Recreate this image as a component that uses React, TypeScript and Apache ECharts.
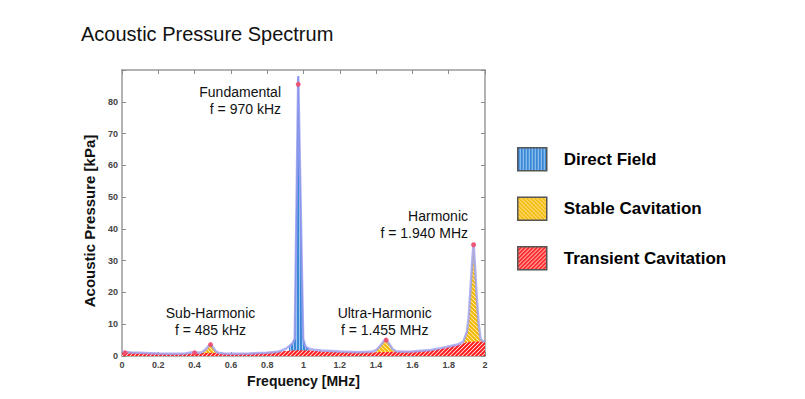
import React, { useEffect, useRef } from "react";
import * as echarts from "echarts";

// Spectrum envelope (MHz, kPa)
const FREQ = [
  0, 0.05, 0.1, 0.15, 0.2, 0.25, 0.3, 0.35, 0.38, 0.4, 0.42, 0.44, 0.46, 0.475, 0.487, 0.5, 0.515, 0.53,
  0.56, 0.6, 0.7, 0.8, 0.86, 0.9, 0.92, 0.94, 0.952, 0.971, 0.998, 1.01, 1.03, 1.06, 1.1, 1.2, 1.3,
  1.37, 1.4, 1.42, 1.44, 1.455, 1.47, 1.49, 1.51, 1.55, 1.6, 1.7, 1.75, 1.8, 1.85, 1.88, 1.9, 1.91,
  1.92, 1.93, 1.937, 1.945, 1.955, 1.965, 1.975, 1.985, 2.0,
];
const PRESSURE = [
  1.3, 1.1, 1.0, 0.9, 0.8, 0.7, 0.7, 0.8, 1.1, 1.2, 1.0, 1.2, 2.0, 3.0, 3.7, 2.8, 1.6, 1.0,
  0.8, 0.7, 0.8, 1.0, 1.3, 2.2, 3.0, 4.0, 5.5, 88, 5.5, 3.0, 2.3, 2.0, 1.7, 1.4, 1.2,
  1.3, 1.8, 3.0, 4.5, 5.3, 4.0, 2.2, 1.5, 1.3, 1.4, 1.9, 2.4, 3.0, 3.6, 4.5, 7.5, 12,
  21, 30, 35.5, 28, 18, 10, 5.5, 4.7, 4.6,
];

// Transient cavitation floor
const FLOOR_FREQ = [0, 0.1, 0.2, 0.3, 0.4, 0.5, 0.6, 0.7, 0.8, 0.9, 0.95, 1.0, 1.05, 1.1, 1.2, 1.3, 1.4, 1.5, 1.6, 1.7, 1.75, 1.8, 1.85, 1.9, 1.95, 2.0];
const FLOOR = [1.3, 1.0, 0.8, 0.7, 0.9, 1.0, 0.7, 0.8, 1.0, 1.6, 1.8, 1.8, 1.7, 1.5, 1.3, 1.2, 1.2, 1.3, 1.4, 1.8, 2.3, 2.9, 3.5, 4.3, 4.6, 4.6];

// Frequency bands
const DIRECT_RANGE = [0.915, 1.03];
const STABLE_RANGES = [
  [0.44, 0.53],
  [1.39, 1.51],
  [1.87, 2.0],
];

// Peak markers
const PEAK_FREQ = [0.017, 0.4, 0.488, 0.971, 1.455, 1.937];
const PEAK_VALUES = [1.0, 1.0, 3.6, 85.5, 5.0, 35];

// Axis
const X_MIN = 0, X_MAX = 2, X_STEP = 0.2;
const Y_MIN = 0, Y_MAX = 90, Y_STEP = 10;

const FONT = "'Liberation Sans', Arial, Helvetica, sans-serif";

function diagPattern(fg: string, bg: string, size: number, dir: "/" | "\\", lw: number) {
  const c = document.createElement("canvas");
  c.width = size;
  c.height = size;
  const ctx = c.getContext("2d")!;
  ctx.fillStyle = bg;
  ctx.fillRect(0, 0, size, size);
  ctx.strokeStyle = fg;
  ctx.lineWidth = lw;
  ctx.beginPath();
  if (dir === "/") {
    ctx.moveTo(-1, 1); ctx.lineTo(1, -1);
    ctx.moveTo(0, size); ctx.lineTo(size, 0);
    ctx.moveTo(size - 1, size + 1); ctx.lineTo(size + 1, size - 1);
  } else {
    ctx.moveTo(-1, size - 1); ctx.lineTo(1, size + 1);
    ctx.moveTo(0, 0); ctx.lineTo(size, size);
    ctx.moveTo(size - 1, -1); ctx.lineTo(size + 1, 1);
  }
  ctx.stroke();
  return { image: c.toDataURL(), repeat: "repeat", imageWidth: size, imageHeight: size } as any;
}

function vertPattern(fg: string, bg: string) {
  const c = document.createElement("canvas");
  c.width = 3;
  c.height = 3;
  const ctx = c.getContext("2d")!;
  ctx.fillStyle = bg;
  ctx.fillRect(0, 0, 3, 3);
  ctx.fillStyle = fg;
  ctx.fillRect(0, 0, 2, 3);
  return { image: c.toDataURL(), repeat: "repeat", imageWidth: 3, imageHeight: 3 } as any;
}

export default function App() {
  const ref = useRef<HTMLDivElement>(null);

  useEffect(() => {
    document.body.style.margin = "0";
    if (!ref.current) return;
    const chart = echarts.init(ref.current, undefined, { renderer: "svg" });

    const redPat = diagPattern("#ff1a1a", "#ffffff", 4, "/", 2);
    const yellowPat = diagPattern("#f5b800", "#fff6d0", 4, "\\", 2);
    const bluePat = vertPattern("#3a88d6", "#9fcaf0");

    const envelope = FREQ.map((f, i) => [f, PRESSURE[i]]);
    const direct = FREQ.map((f, i) => [f, PRESSURE[i]]).filter(
      (p) => p[0] >= DIRECT_RANGE[0] && p[0] <= DIRECT_RANGE[1]
    );
    const stable: any[] = [];
    STABLE_RANGES.forEach((r, k) => {
      FREQ.forEach((f, i) => {
        if (f >= r[0] && f <= r[1]) stable.push([f, PRESSURE[i]]);
      });
      if (k < STABLE_RANGES.length - 1) stable.push([(r[1] + STABLE_RANGES[k + 1][0]) / 2, null]);
    });
    const floor = FLOOR_FREQ.map((f, i) => [f, FLOOR[i]]);
    const peaks = PEAK_FREQ.map((f, i) => [f, PEAK_VALUES[i]]);

    const axisLine = { show: true, onZero: false, lineStyle: { color: "#9a9a9a", width: 1.5 } };
    const axisTick = { show: true, inside: true, length: 4, lineStyle: { color: "#8a8a8a", width: 1 } };

    const legendItem = (name: string, pat: any) => ({
      name,
      itemStyle: { color: pat, borderColor: "#555555", borderWidth: 1.5 },
    });

    chart.setOption({
      animation: false,
      title: {
        text: "Acoustic Pressure Spectrum",
        left: 81,
        top: 24,
        padding: 0,
        textStyle: { fontFamily: FONT, fontSize: 20, fontWeight: "normal", color: "#111" },
      },
      legend: {
        orient: "vertical",
        left: 517,
        top: 147,
        padding: 0,
        icon: "rect",
        itemWidth: 29,
        itemHeight: 23,
        itemGap: 25,
        selectedMode: false,
        textStyle: {
          fontFamily: FONT,
          fontSize: 17,
          fontWeight: "bold",
          color: "#000",
          padding: [0, 0, 0, 12],
        },
        data: [
          legendItem("Direct Field", bluePat),
          legendItem("Stable Cavitation", yellowPat),
          legendItem("Transient Cavitation", redPat),
        ],
      },
      grid: { left: 122, right: 320, top: 70, bottom: 43 },
      xAxis: [
        {
          type: "value",
          min: X_MIN,
          max: X_MAX,
          interval: X_STEP,
          axisLine,
          axisTick,
          splitLine: { show: false },
          axisLabel: {
            margin: 4,
            fontFamily: FONT,
            fontSize: 9,
            fontWeight: "bold",
            color: "#444",
            formatter: (v: number) => String(Math.round(v * 10) / 10),
          },
          name: "Frequency [MHz]",
          nameLocation: "middle",
          nameGap: 18,
          nameTextStyle: { fontFamily: FONT, fontSize: 14, fontWeight: "bold", color: "#111" },
        },
        {
          type: "value",
          position: "top",
          min: X_MIN,
          max: X_MAX,
          interval: X_STEP,
          axisLine,
          axisTick,
          axisLabel: { show: false },
          splitLine: { show: false },
        },
      ],
      yAxis: [
        {
          type: "value",
          min: Y_MIN,
          max: Y_MAX,
          interval: Y_STEP,
          axisLine,
          axisTick,
          splitLine: { show: false },
          axisLabel: {
            margin: 4,
            fontFamily: FONT,
            fontSize: 9,
            fontWeight: "bold",
            color: "#444",
            formatter: (v: number) => (v === Y_MAX ? "" : String(v)),
          },
        },
        {
          type: "value",
          position: "right",
          min: Y_MIN,
          max: Y_MAX,
          interval: Y_STEP,
          axisLine,
          axisTick,
          axisLabel: { show: false },
          splitLine: { show: false },
        },
      ],
      graphic: [
        {
          type: "text",
          x: 89,
          y: 221,
          rotation: Math.PI / 2,
          style: {
            text: "Acoustic Pressure [kPa]",
            fontFamily: FONT,
            fontSize: 15,
            fontWeight: "bold",
            fill: "#111",
            textAlign: "center",
            textVerticalAlign: "middle",
          },
        },
        {
          type: "text",
          x: 281,
          y: 100.5,
          style: {
            text: "Fundamental\nf = 970 kHz",
            fontFamily: FONT, fontSize: 14, lineHeight: 17, fill: "#111",
            textAlign: "right", textVerticalAlign: "middle",
          },
        },
        {
          type: "text",
          x: 210.5,
          y: 321.5,
          style: {
            text: "Sub-Harmonic\nf = 485 kHz",
            fontFamily: FONT, fontSize: 14, lineHeight: 17, fill: "#111",
            textAlign: "center", textVerticalAlign: "middle",
          },
        },
        {
          type: "text",
          x: 384.7,
          y: 321.5,
          style: {
            text: "Ultra-Harmonic\nf = 1.455 MHz",
            fontFamily: FONT, fontSize: 14, lineHeight: 17, fill: "#111",
            textAlign: "center", textVerticalAlign: "middle",
          },
        },
        {
          type: "text",
          x: 468,
          y: 224.5,
          style: {
            text: "Harmonic\nf = 1.940 MHz",
            fontFamily: FONT, fontSize: 14, lineHeight: 17, fill: "#111",
            textAlign: "right", textVerticalAlign: "middle",
          },
        },
      ],
      series: [
        {
          name: "Direct Field",
          type: "line",
          data: direct,
          showSymbol: false,
          z: 2,
          lineStyle: { color: "#2f6fd6", width: 1 },
          itemStyle: { color: bluePat },
          areaStyle: { color: bluePat, opacity: 1 },
        },
        {
          name: "Stable Cavitation",
          type: "line",
          data: stable,
          showSymbol: false,
          connectNulls: false,
          z: 2,
          lineStyle: { width: 0 },
          itemStyle: { color: yellowPat },
          areaStyle: { color: yellowPat, opacity: 1 },
        },
        {
          name: "Transient Cavitation",
          type: "line",
          data: floor,
          showSymbol: false,
          z: 3,
          lineStyle: { width: 0 },
          itemStyle: { color: redPat },
          areaStyle: { color: redPat, opacity: 1 },
        },
        {
          name: "Spectrum",
          type: "line",
          data: envelope,
          showSymbol: false,
          z: 4,
          lineStyle: { color: "#9c9ff0", width: 2.5, opacity: 0.8 },
        },
        {
          name: "Peaks",
          type: "scatter",
          data: peaks,
          symbol: "circle",
          symbolSize: 5,
          z: 5,
          itemStyle: { color: "#f24a6a", opacity: 0.9 },
        },
      ],
    });

    return () => chart.dispose();
  }, []);

  return <div ref={ref} style={{ width: 805, height: 399 }} />;
}
